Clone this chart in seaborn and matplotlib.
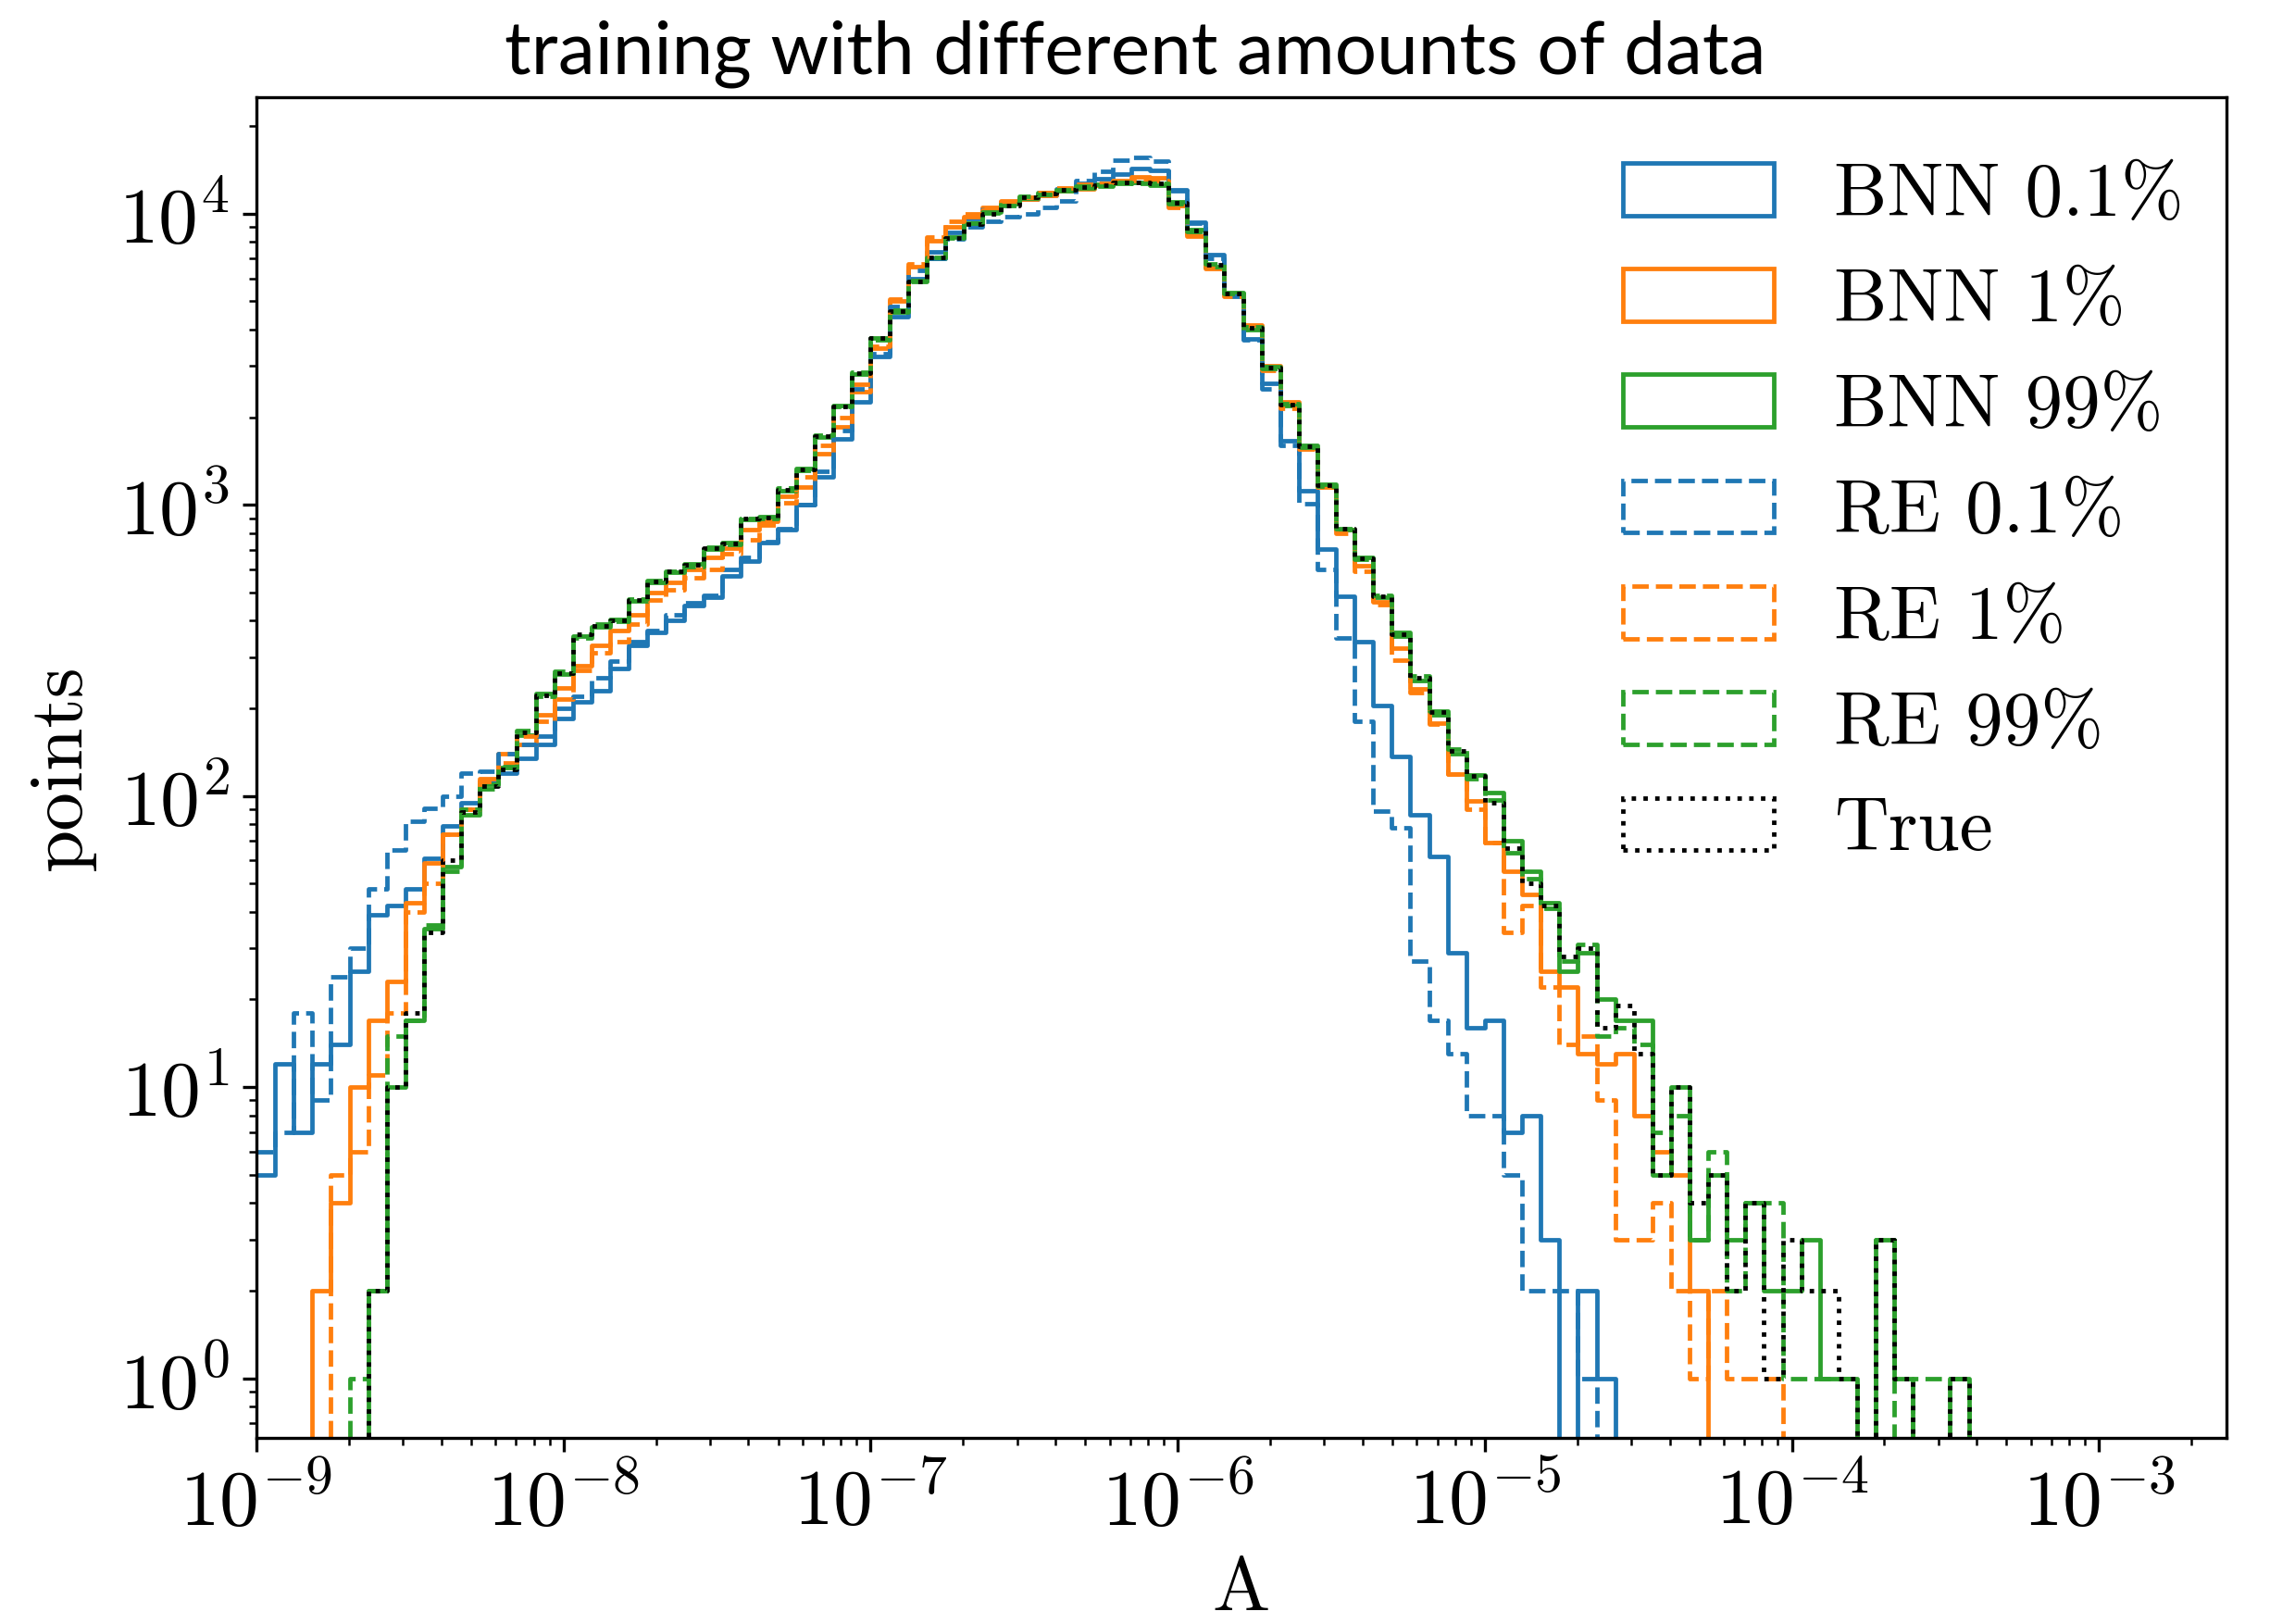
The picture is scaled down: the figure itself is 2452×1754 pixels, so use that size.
import numpy as np
import pandas as pd
import matplotlib
matplotlib.use("Agg")
import matplotlib.pyplot as plt
import matplotlib.patches as mpatches
import seaborn as sns

# ---- data: counts per logarithmic bin (99 bins from 1e-9 to 1e-3) ----
log_edges = np.linspace(-9, -3, 100)

true_counts = [0, 0, 0, 0, 0, 0, 2, 10, 18, 34,
               60, 88, 108, 123, 165, 222, 265, 360, 385, 400,
               470, 545, 590, 620, 710, 735, 895, 905, 1130, 1320,
               1720, 2180, 2840, 3730, 4630, 5870, 7090, 8270, 9200, 10000,
               10700, 11400, 11700, 12070, 12370, 12510, 12820, 12820, 12680, 10900,
               8730, 6670, 5320, 4050, 2950, 2210, 1590, 1170, 826, 657,
               485, 360, 255, 194, 143, 117, 95, 66, 50, 42,
               28, 30, 16, 19, 13, 5, 10, 4, 5, 2,
               4, 1, 3, 2, 2, 1, 0, 3, 1, 0,
               0, 1, 0, 0, 0, 0, 0, 0, 0]

bnn_99 = [0, 0, 0, 0, 0, 0, 2, 10, 17, 35,
          57, 86, 110, 125, 162, 225, 262, 355, 380, 405,
          468, 540, 585, 625, 705, 740, 890, 910, 1120, 1330,
          1710, 2190, 2820, 3750, 4600, 5900, 7050, 8300, 9300, 10100,
          10800, 11300, 11800, 12000, 12300, 12600, 12700, 12800, 12500, 11000,
          8800, 6600, 5350, 4000, 2980, 2200, 1600, 1180, 820, 660,
          480, 365, 250, 195, 140, 118, 103, 70, 55, 43,
          25, 29, 20, 17, 17, 5, 10, 3, 5, 3,
          4, 2, 2, 3, 1, 1, 0, 3, 1, 0,
          0, 1, 0, 0, 0, 0, 0, 0, 0]

re_99 = [0, 0, 0, 0, 0, 1, 2, 15, 17, 36,
         55, 90, 106, 126, 168, 220, 268, 350, 390, 398,
         475, 548, 592, 615, 715, 730, 900, 900, 1140, 1310,
         1730, 2170, 2860, 3700, 4650, 5850, 7100, 8250, 9250, 10050,
         10650, 11450, 11650, 12100, 12400, 12450, 12850, 12750, 12700, 10850,
         8700, 6700, 5300, 4080, 2930, 2220, 1580, 1160, 830, 650,
         490, 355, 258, 190, 145, 115, 97, 64, 52, 41,
         27, 31, 15, 16, 14, 7, 8, 3, 6, 2,
         4, 4, 1, 1, 1, 1, 0, 3, 0, 1,
         1, 1, 0, 0, 0, 0, 0, 0, 0]

bnn_1 = [0, 0, 0, 2, 4, 10, 17, 23, 43, 59,
         74, 90, 115, 140, 150, 190, 235, 280, 330, 370,
         420, 500, 540, 600, 660, 710, 820, 880, 1070, 1150,
         1500, 1850, 2450, 3450, 5000, 6600, 8100, 9000, 9800, 10300,
         11100, 11200, 11600, 12000, 12200, 12500, 13000, 13400, 13300, 10700,
         8400, 6500, 5300, 4150, 3000, 2250, 1560, 1150, 820, 617,
         463, 321, 233, 178, 119, 96, 69, 55, 46, 25,
         22, 13, 12, 13, 8, 6, 5, 2, 0, 0,
         0, 0, 0, 0, 0, 0, 0, 0, 0, 0,
         0, 0, 0, 0, 0, 0, 0, 0, 0]

re_1 = [0, 0, 0, 0, 5, 6, 11, 18, 40, 50,
        74, 90, 112, 130, 160, 180, 215, 270, 310, 340,
        390, 470, 510, 560, 600, 680, 760, 850, 1020, 1250,
        1600, 2000, 2600, 3500, 5100, 6700, 8300, 9400, 10000, 10500,
        11000, 11400, 11800, 12300, 12600, 12700, 12800, 13000, 13000, 10500,
        8500, 6600, 5200, 4100, 2900, 2150, 1550, 1150, 800, 590,
        455, 293, 226, 176, 119, 90, 69, 34, 42, 22,
        14, 15, 9, 3, 3, 4, 2, 1, 2, 1,
        1, 1, 0, 0, 0, 0, 0, 0, 0, 0,
        0, 0, 0, 0, 0, 0, 0, 0, 0]

bnn_01 = [5, 12, 7, 12, 14, 25, 39, 42, 48, 61,
          79, 95, 112, 120, 135, 150, 185, 210, 230, 275,
          330, 365, 400, 450, 480, 570, 640, 740, 820, 1000,
          1250, 1690, 2250, 3240, 4430, 6000, 7400, 8600, 9600, 10400,
          11000, 11200, 11600, 12200, 12700, 13200, 13700, 14300, 14100, 12100,
          9340, 7210, 5300, 3720, 2610, 1660, 1120, 704, 485, 340,
          205, 137, 86, 62, 29, 16, 17, 7, 8, 3,
          0, 2, 1, 0, 0, 0, 0, 0, 0, 0,
          0, 0, 0, 0, 0, 0, 0, 0, 0, 0,
          0, 0, 0, 0, 0, 0, 0, 0, 0]

re_01 = [6, 7, 18, 9, 24, 30, 48, 65, 82, 91,
         100, 120, 122, 140, 150, 160, 200, 220, 255, 290,
         340, 370, 420, 460, 490, 600, 660, 750, 830, 1000,
         1300, 1800, 2500, 3300, 4800, 6400, 7000, 8170, 9000, 9400,
         9750, 10000, 10500, 11100, 13000, 14000, 15300, 15600, 15200, 12000,
         9300, 7000, 5200, 3700, 2500, 1600, 1010, 601, 350, 181,
         89, 78, 27, 17, 13, 8, 8, 5, 2, 2,
         2, 1, 0, 0, 0, 0, 0, 0, 0, 0,
         0, 0, 0, 0, 0, 0, 0, 0, 0, 0,
         0, 0, 0, 0, 0, 0, 0, 0, 0]

labels = ["BNN 0.1%", "BNN 1%", "BNN 99%", "RE 0.1%", "RE 1%", "RE 99%", "True"]
series = [bnn_01, bnn_1, bnn_99, re_01, re_1, re_99, true_counts]
colors = ["#1f77b4", "#ff7f0e", "#2ca02c", "#1f77b4", "#ff7f0e", "#2ca02c", "black"]
styles = ["-", "-", "-", "--", "--", "--", ":"]

# ---- style ----
plt.rcParams["font.family"] = "serif"
plt.rcParams["font.serif"] = ["cmr10"]
plt.rcParams["mathtext.fontset"] = "cm"
plt.rcParams["axes.formatter.use_mathtext"] = True
plt.rcParams["axes.unicode_minus"] = False

LW = 1.15

fig = plt.figure(figsize=(2453 / 300, 1754 / 300), dpi=300)
ax = fig.add_axes([277 / 2453, 1 - 1553 / 1754, (2405 - 277) / 2453, (1553 - 105) / 1754])

centers = 10 ** (0.5 * (log_edges[:-1] + log_edges[1:]))

for counts, col, ls in zip(series, colors, styles):
    df = pd.DataFrame({"A": centers, "w": np.asarray(counts, dtype=float)})
    sns.histplot(data=df, x="A", weights="w", bins=list(log_edges),
                 element="step", fill=False, color=col, linestyle=ls,
                 linewidth=LW, log_scale=(True, False), ax=ax)

ax.set_yscale("log")
ax.set_xlim(1e-9, 10 ** -2.585)
ax.set_ylim(10 ** -0.205, 10 ** 4.40)

ax.tick_params(axis="both", which="major", labelsize=20.5)
ax.set_xlabel("A", fontsize=20)
ax.set_ylabel("points", fontsize=20)
ax.xaxis.set_label_coords(0.5, -0.089)
ax.yaxis.set_label_coords(-0.082, 0.5)

handles = [mpatches.Patch(facecolor="none", edgecolor=c, linestyle=s, linewidth=LW)
           for c, s in zip(colors, styles)]
ax.legend(handles, labels, loc="upper right", bbox_to_anchor=(1.0125, 1.002),
          frameon=False, fontsize=19.5, labelspacing=0.505)

fig.suptitle("training with different amounts of data", fontfamily="Lato",
             fontweight="normal", fontsize=19.2, y=0.967, va="center")

fig.savefig("out.png", dpi=300)
